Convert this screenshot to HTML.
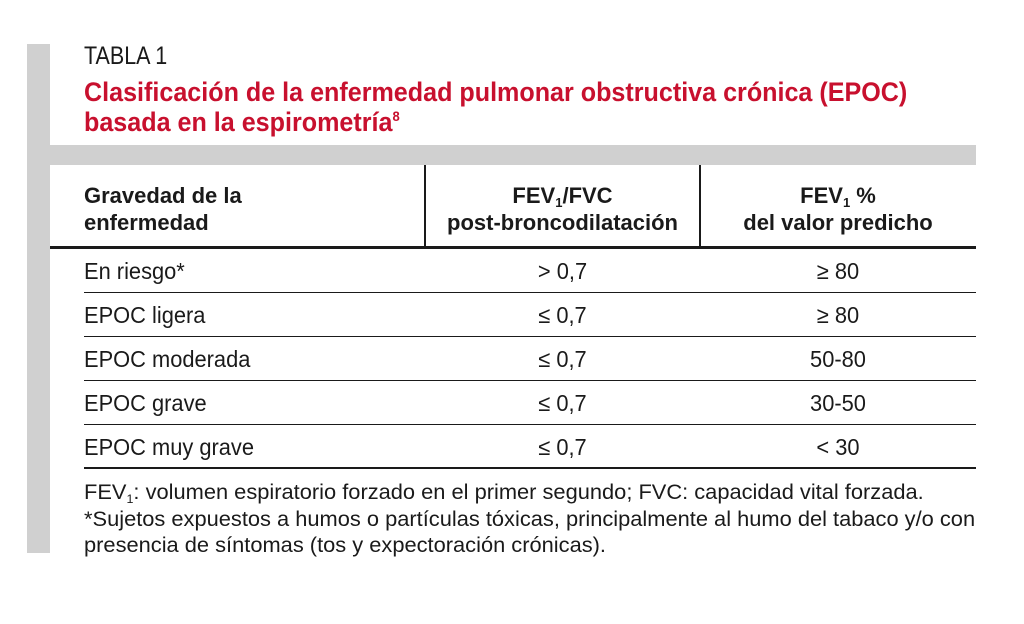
<!DOCTYPE html>
<html><head><meta charset="utf-8"><style>
body{margin:0;width:1024px;height:624px;background:#fff;position:relative;overflow:hidden;font-family:"Liberation Sans",sans-serif;color:#1a1a1a}
.t{position:absolute;white-space:nowrap;transform-origin:left top}
.c{position:absolute;white-space:nowrap;transform-origin:center top;text-align:center}
.ln{position:absolute;background:#1a1a1a}
.red{color:#c8102e;font-weight:bold;font-size:27px;transform:scaleX(0.93)}
.h{font-weight:bold;font-size:22px;line-height:27px}
.b{font-size:23px}
.f{font-size:21px;transform:scaleX(1.04)}
sub{line-height:0;vertical-align:-4px}
</style></head><body>
<div style="position:absolute;left:27px;top:44px;width:23px;height:509px;background:#d0d0d0"></div>
<div style="position:absolute;left:27px;top:145px;width:949px;height:20px;background:#d0d0d0"></div>
<div class="t" style="left:84px;top:42px;font-size:25px;transform:scaleX(0.86)">TABLA 1</div>
<div class="t red" style="left:84px;top:77px">Clasificación de la enfermedad pulmonar obstructiva crónica (EPOC)</div>
<div class="t red" style="left:84px;top:107px">basada en la espirometría<sup style="font-size:14px">8</sup></div>

<div class="t h" style="left:84px;top:182px;transform:scaleX(1.0)">Gravedad de la<br>enfermedad</div>
<div class="c h" style="left:425px;width:275px;top:182px;transform:scaleX(1.0)">FEV<sub style="font-size:13px">1</sub>/FVC<br>post-broncodilatación</div>
<div class="c h" style="left:700px;width:276px;top:182px;transform:scaleX(1.0)">FEV<sub style="font-size:13px">1</sub> %<br>del valor predicho</div>
<div class="ln" style="left:424px;top:165px;width:2px;height:82px"></div>
<div class="ln" style="left:699px;top:165px;width:2px;height:82px"></div>
<div class="ln" style="left:50px;top:246px;width:926px;height:3px"></div>

<div id="rows"></div>
<div class="ln" style="left:84px;top:467px;width:892px;height:2px"></div>

<div class="t f" style="left:84px;top:481px">FEV<sub style="font-size:12px">1</sub>: volumen espiratorio forzado en el primer segundo; FVC: capacidad vital forzada.</div>
<div class="t f" style="left:84px;top:508px">*Sujetos expuestos a humos o partículas tóxicas, principalmente al humo del tabaco y/o con</div>
<div class="t f" style="left:84px;top:534px">presencia de síntomas (tos y expectoración crónicas).</div>
<script>
const severity=["En riesgo*","EPOC ligera","EPOC moderada","EPOC grave","EPOC muy grave"];
const ratio=["> 0,7","≤ 0,7","≤ 0,7","≤ 0,7","≤ 0,7"];
const fevPct=["≥ 80","≥ 80","50-80","30-50","< 30"];
const rows=document.getElementById('rows');
severity.forEach((s,i)=>{
  const y=249+i*44;
  const a=document.createElement('div');a.className='t b';
  
  
  a.style.cssText=`left:84px;top:${y+9}px;transform:scaleX(0.95)`;a.textContent=s;rows.appendChild(a);
  const b=document.createElement('div');b.className='c b';
  
  
  b.style.cssText=`left:425px;width:275px;top:${y+9}px;transform:scaleX(0.95)`;b.textContent=ratio[i];rows.appendChild(b);
  const c=document.createElement('div');c.className='c b';
  
  
  c.style.cssText=`left:700px;width:276px;top:${y+9}px;transform:scaleX(0.95)`;c.textContent=fevPct[i];rows.appendChild(c);
  if(i<severity.length-1){const l=document.createElement('div');l.className='ln';
  
  
  l.style.cssText=`left:84px;top:${y+43}px;width:892px;height:1px`;rows.appendChild(l);}
});
</script>
</body></html>
